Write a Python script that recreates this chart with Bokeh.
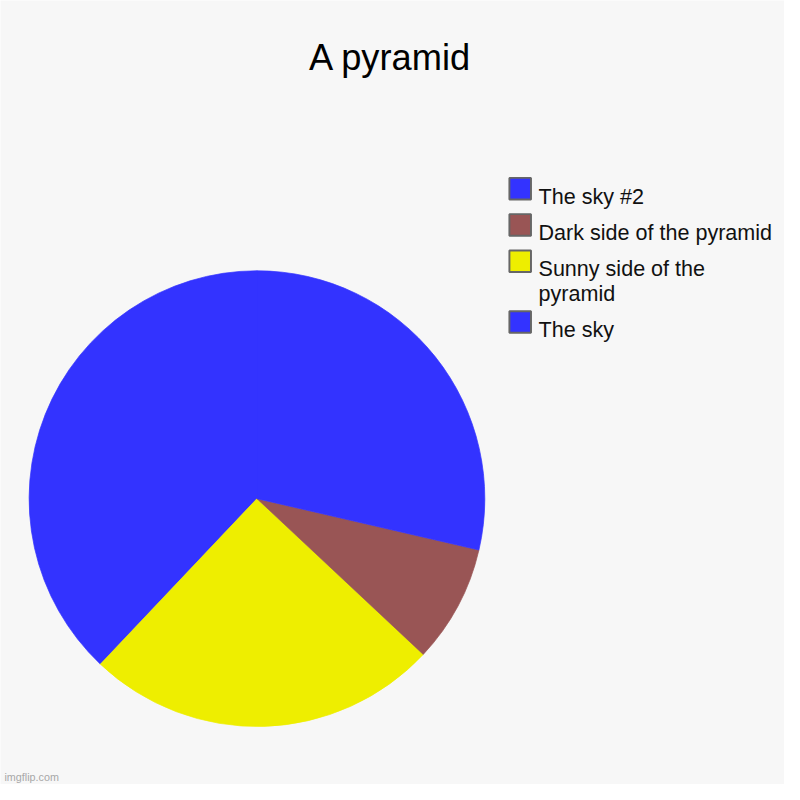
import math
from bokeh.plotting import figure
from bokeh.models import Range1d, ColumnDataSource
from bokeh.core.properties import value
from bokeh.embed import file_html
from bokeh.resources import INLINE

# ---- data ----
title = "A pyramid"
labels = ["The sky", "Sunny side of the pyramid", "Dark side of the pyramid", "The sky #2"]
values = [37.94, 25.08, 8.36, 28.62]
colors = ["#3333ff", "#eeee00", "#995555", "#3333ff"]
# legend lists the series in reverse order, with the long label wrapped
legend_labels = ["The sky #2", "Dark side of the pyramid", "Sunny side of the\npyramid", "The sky"]
legend_colors = ["#3333ff", "#995555", "#eeee00", "#3333ff"]
watermark = "imgflip.com"

FONT = value("Liberation Sans")
BG = "#f7f7f7"
W = 784
S = W / 800.0  # reference pixel -> screen pixel

# data coordinates = reference pixels (x right, -y down)
p = figure(width=W, height=W, x_range=Range1d(0, 800), y_range=Range1d(-800, 0),
           x_axis_type=None, y_axis_type=None, output_backend="svg",
           toolbar_location=None, min_border=0)
p.grid.visible = False
p.outline_line_color = None
p.background_fill_color = BG
p.border_fill_color = BG

def px(n):
    return "%.2fpx" % (n * S)

# ---- pie ----
cx, cy, r = 261.7, 508.3, 232.5
total = sum(values)
starts, ends = [], []
acc = 0.0
for v in values:
    starts.append(math.pi / 2 + 2 * math.pi * acc / total)
    acc += v
    ends.append(math.pi / 2 + 2 * math.pi * acc / total)
src = ColumnDataSource(dict(x=[cx] * len(values), y=[-cy] * len(values),
                            start=starts, end=ends, color=colors, label=labels, value=values))
p.wedge(x="x", y="y", radius=r, radius_units="data", start_angle="start", end_angle="end",
        fill_color="color", line_color="color", line_width=0.7, source=src)

# ---- title ----
p.text(x=[398], y=[-58], text=[title], text_font=FONT, text_font_size=px(37),
       text_align="center", text_baseline="alphabetic", text_color="#000000")

# ---- legend ----
box_x, text_x = 530.3, 549
row_y = 192.0
bx, by, bc, tx, ty, tt = [], [], [], [], [], []
for lab, col in zip(legend_labels, legend_colors):
    lines = lab.split("\n")
    bx.append(box_x); by.append(-row_y); bc.append(col)
    for i, ln in enumerate(lines):
        tx.append(text_x); ty.append(-(row_y + 7.5 + 25 * i)); tt.append(ln)
    row_y += 37 + 25 * (len(lines) - 1)
p.rect(x=bx, y=by, width=22, height=22, width_units="data", height_units="data",
       fill_color=bc, line_color="#666666", line_width=2 * S)
p.text(x=tx, y=ty, text=tt, text_font=FONT, text_font_size=px(22),
       text_align="left", text_baseline="alphabetic", text_color="#111111")

# ---- watermark ----
p.text(x=[4], y=[-792], text=[watermark], text_font=FONT, text_font_size=px(11),
       text_align="left", text_baseline="alphabetic", text_color="#a8a8a8")

open("out.html", "w").write(file_html(p, INLINE))
